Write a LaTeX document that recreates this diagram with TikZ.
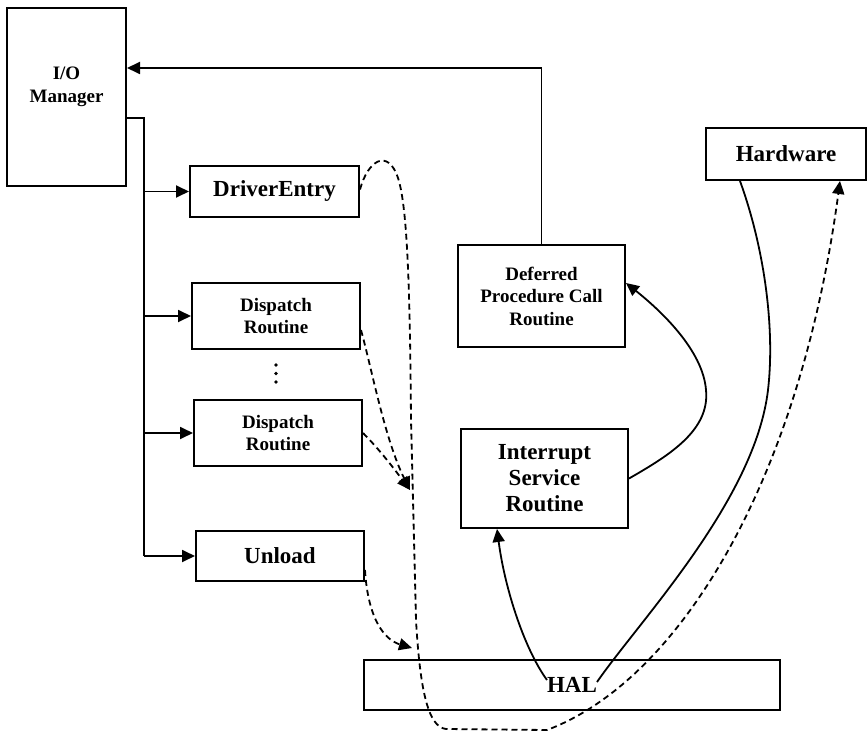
\documentclass[tikz,border=0pt]{standalone}
\usepackage{fontspec}
\setmainfont{Liberation Serif}
\usetikzlibrary{arrows.meta}
\begin{document}
\begin{tikzpicture}[x=1pt,y=-1pt,
  box/.style={draw, line width=2pt, rectangle, inner sep=0pt, align=center,
    font=\bfseries\fontsize{23}{26}\selectfont},
  smallbox/.style={box, font=\bfseries\fontsize{19}{22.5}\selectfont},
  link/.style={line width=1.8pt},
  arrowed/.style={-{Triangle[length=13pt,width=12pt]}},
  dashlink/.style={line width=1.8pt, dash pattern=on 6pt off 4pt},
]
\useasboundingbox (0,0) rectangle (868,733);

% components
\node[smallbox, minimum width=119pt, minimum height=178pt,
  label={[yshift=10pt, align=center, font=\bfseries\fontsize{19}{23}\selectfont]center:I/O\\Manager}]
  (io) at (66.5,97) {};
\node[box, minimum width=169pt, minimum height=51pt] (drv) at (274.5,191.5) {DriverEntry};
\node[smallbox, minimum width=168pt, minimum height=66pt] (dis1) at (276,316) {Dispatch\\Routine};
\node[smallbox, minimum width=168pt, minimum height=66pt] (dis2) at (278,433) {Dispatch\\Routine};
\node[box, minimum width=168pt, minimum height=50pt] (unl) at (280,556) {Unload};
\node[smallbox, minimum width=167pt, minimum height=102pt] (dpc) at (541.5,296) {Deferred\\Procedure Call\\Routine};
\node[box, minimum width=167pt, minimum height=99pt] (isr) at (544.5,478.5) {Interrupt\\Service\\Routine};
\node[box, minimum width=160pt, minimum height=52pt] (hw) at (786,154) {Hardware};
\node[box, minimum width=416pt, minimum height=50pt] (hal) at (572,685) {HAL};

% vertical ellipsis between the dispatch routines
\foreach \yy in {365,373.5,382} \fill (276,\yy) circle (1.9pt);

% I/O manager calling the driver routines
\coordinate (bus) at (144,118);
\draw[link] ([yshift=-21pt]io.east) -- (bus) -- (bus |- unl.west);
\draw[link, arrowed] (bus |- drv.west) -- (drv.west);
\draw[link, arrowed] (bus |- dis1.west) -- (dis1.west);
\draw[link, arrowed] (bus |- dis2.west) -- (dis2.west);
\draw[link, arrowed] (bus |- unl.west) -- (unl.west);

% DPC reporting back to the I/O manager
\draw[link, arrowed] (dpc.north) |- ([yshift=29pt]io.east);

% driver routines going down through the HAL
\coordinate (merge) at (410,490);
\coordinate (halin) at (412,648);
\coordinate (hwin) at ([xshift=54pt]hw.south);
\draw[dashlink, arrowed] ([yshift=2pt]drv.east)
  .. controls (368,160) and (388,148) .. (398,178)
  .. controls (408,208) and (410,300) .. (411,420)
  -- (416,620)
  .. controls (420,690) and (428,727) .. (446,729)
  -- (547,730)
  .. controls (680,680) and (800,480) .. (hwin);
\draw[dashlink, arrowed] ([yshift=-14pt]dis1.east) .. controls (372,370) and (385,440) .. (merge);
\draw[dashlink, arrowed] (dis2.east) .. controls (380,450) and (395,470) .. (merge);
\draw[dashlink, arrowed] ([yshift=-14pt]unl.east) .. controls (368,620) and (385,640) .. (halin);

% interrupt path: hardware -> HAL -> ISR -> DPC
\coordinate (halout) at (597,682);
\coordinate (halisr) at (547,680);
\draw[link] ([xshift=-46pt]hw.south)
  .. controls (765,250) and (775,330) .. (768,390)
  .. controls (755,500) and (640,620) .. (halout);
\draw[link, arrowed] (halisr) .. controls (525,650) and (505,590) .. ([xshift=-47.5pt]isr.south);
\draw[link, arrowed] (isr.east)
  .. controls (670,455) and (710,430) .. (706,390)
  .. controls (703,350) and (660,310) .. ([yshift=13pt]dpc.east);
\end{tikzpicture}
\end{document}
